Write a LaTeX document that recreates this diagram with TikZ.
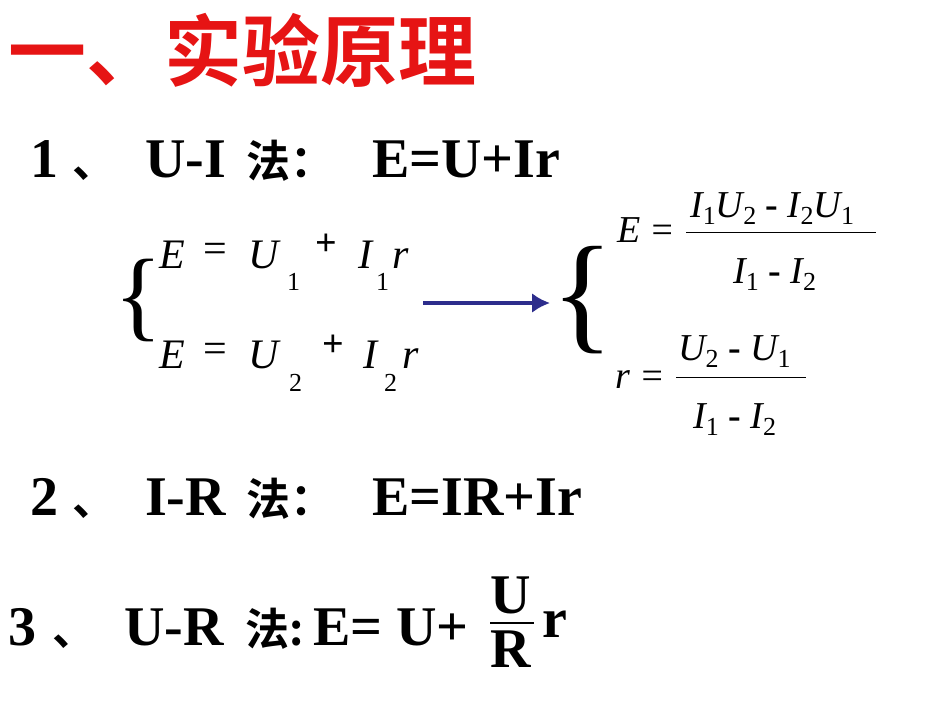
\documentclass[tikz,border=0pt]{standalone}
\usetikzlibrary{arrows.meta}
\usepackage{fontspec}
\setmainfont{Liberation Serif}
\newfontfamily\cjkb{Noto Sans CJK SC Bold}
\definecolor{tred}{RGB}{230,20,20}
\definecolor{arr}{RGB}{45,45,140}
\newcommand{\sbs}[1]{\raisebox{-0.45ex}{\fontsize{26}{26}\selectfont\upshape #1}}
\begin{document}
\begin{tikzpicture}[x=1pt,y=-1pt,
 big/.style={anchor=base west,inner sep=0,font=\fontsize{56}{58}\selectfont\bfseries},
 zh/.style={anchor=base west,inner sep=0,font=\fontsize{44}{46}\cjkb},
 eq/.style={anchor=base west,inner sep=0,font=\fontsize{42}{44}\selectfont\itshape},
 fr/.style={anchor=base west,inner sep=0,font=\fontsize{38}{40}\selectfont\itshape}]
\useasboundingbox (0,0) rectangle (950,713);
\node[anchor=base west,inner sep=0,text=tred,font=\fontsize{78}{80}\cjkb] (title) at (8,80) {一、实验原理};
% line 1
\node[big] (n1a) at (30,177) {1};
\node[zh] (n1b) at (72,177) {、};
\node[big] (n1c) at (145,177) {U-I};
\node[zh] (n1d) at (246,177) {法：};
\node[big] (n1e) at (372,177) {E=U+Ir};
% line 2
\node[big] (n2a) at (30,515) {2};
\node[zh] (n2b) at (72,515) {、};
\node[big] (n2c) at (145,515) {I-R};
\node[zh] (n2d) at (246,515) {法：};
\node[big] (n2e) at (372,515) {E=IR+Ir};
% line 3
\node[big] (n3a) at (8,645) {3};
\node[zh] (n3b) at (52,645) {、};
\node[big] (n3c) at (124,645) {U-R};
\node[zh] (n3d) at (245,645) {法:};
\node[big] (n3e) at (313,645) {E= U+};
\node[big] (fu) at (490,613) {U};
\node[big] (fR) at (490,667) {R};
\draw[line width=2.5pt] (490,623) -- (534,623);
\node[big] (rr) at (542,637) {r};
% left system
\node[anchor=center,inner sep=0,font=\fontsize{100}{100}\selectfont] (lb) at (138,300) {\{};
\node[eq] (e1) at (159,268) {E};
\node[eq,font=\fontsize{42}{44}\selectfont] (q1) at (203,262) {=};
\node[eq] (u1) at (248,268) {U};
\node[eq,font=\fontsize{26}{26}\selectfont] (s1) at (287,290) {1};
\node[eq,font=\fontsize{38}{40}\selectfont\bfseries] (p1) at (315,255) {+};
\node[eq] (i1) at (358,268) {I};
\node[eq,font=\fontsize{26}{26}\selectfont] (t1) at (376,290) {1};
\node[eq] (r1) at (392,268) {r};
\node[eq] (e2) at (159,368) {E};
\node[eq,font=\fontsize{42}{44}\selectfont] (q2) at (203,362) {=};
\node[eq] (u2) at (248,368) {U};
\node[eq,font=\fontsize{26}{26}\selectfont] (s2) at (289,391) {2};
\node[eq,font=\fontsize{38}{40}\selectfont\bfseries] (p2) at (322,356) {+};
\node[eq] (i2) at (363,368) {I};
\node[eq,font=\fontsize{26}{26}\selectfont] (t2) at (384,391) {2};
\node[eq] (r2) at (402,368) {r};
\coordinate (as) at (423,303);
\coordinate (ae) at (550,303);
\draw[arr,line width=4pt,-{Latex[length=18pt,width=20pt]}] (as) -- (ae);
% right system
\node[anchor=center,inner sep=0,font=\fontsize{130}{130}\selectfont] (rb) at (583,300) {\{};
\node[fr] (re) at (617,242) {E =};
\node[fr] (fn1) at (690,217) {I\sbs{1}U\sbs{2}\upshape\bfseries\ - \itshape\mdseries I\sbs{2}U\sbs{1}};
\draw[line width=1pt] (686,232) -- (876,232);
\node[fr] (fd1) at (733,283) {I\sbs{1}\upshape\bfseries\ - \itshape\mdseries I\sbs{2}};
\node[fr] (rr2) at (615,388) {r =};
\node[fr] (fn2) at (678,360) {U\sbs{2}\upshape\bfseries\ - \itshape\mdseries U\sbs{1}};
\draw[line width=1pt] (676,377) -- (806,377);
\node[fr] (fd2) at (693,428) {I\sbs{1}\upshape\bfseries\ - \itshape\mdseries I\sbs{2}};
\end{tikzpicture}
\end{document}
